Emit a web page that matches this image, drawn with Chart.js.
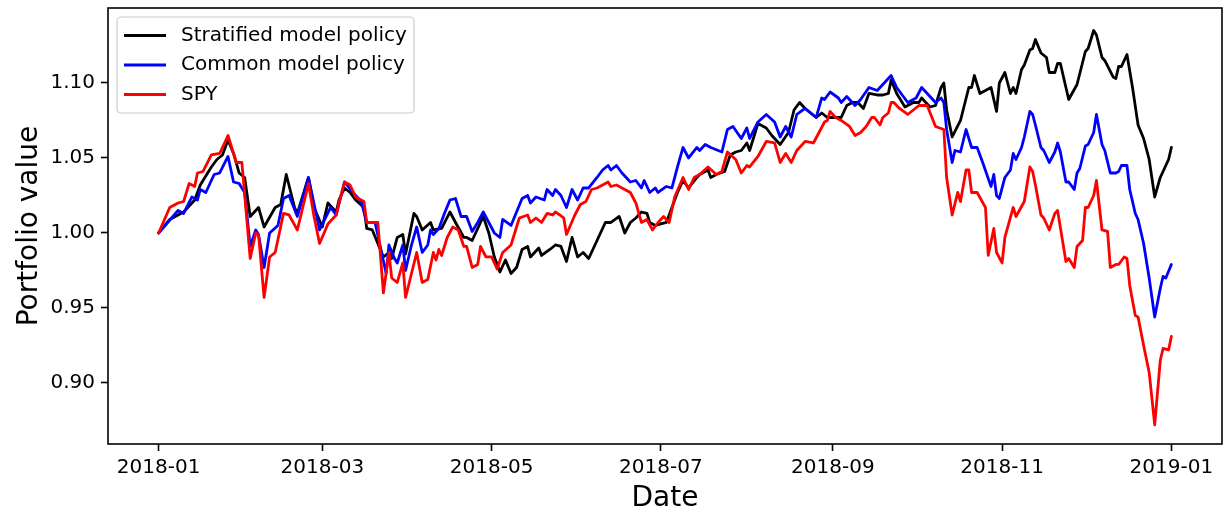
<!DOCTYPE html>
<html>
<head>
<meta charset="utf-8">
<script src="https://cdn.jsdelivr.net/npm/chart.js@4.4.1/dist/chart.umd.min.js"></script>
<style>
  html, body { margin: 0; padding: 0; background: #fff; }
  #wrap { width: 1224px; height: 510px; }
</style>
</head>
<body>
<div id="wrap"><canvas id="portfolio_chart"></canvas></div>
<script>
// days since 2018-01-01
const stratDays = [0,4,9,13,15,19,21,23,25,27,29,31,33,36,38,42,44,46,49,50,54,56,59,61,64,65,67,69,71,74,75,77,81,83,84,86,88,89,92,93,95,98,99,102,105,107,110,111,113,117,119,121,123,125,127,129,131,133,134,137,138,141,143,145,147,149,151,153,155,158,161,163,166,168,170,172,174,176,177,179,183,185,187,189,191,194,195,198,199,201,204,206,208,210,212,213,216,219,221,223,224,227,229,231,233,237,239,241,244,246,248,250,252,254,256,259,261,263,264,266,269,272,274,275,278,280,282,283,284,286,289,292,293,294,296,300,302,303,305,307,308,309,311,312,314,315,316,318,320,321,323,324,325,328,331,334,335,337,338,340,341,344,345,346,347,349,351,353,355,357,359,361,363,364,365];
const stratValues = [1.000,1.009,1.014,1.022,1.032,1.044,1.049,1.052,1.062,1.053,1.040,1.037,1.011,1.017,1.004,1.017,1.019,1.039,1.017,1.013,1.037,1.017,1.004,1.020,1.014,1.022,1.030,1.027,1.022,1.017,1.003,1.002,0.984,0.987,0.983,0.997,0.999,0.986,1.013,1.011,1.002,1.007,1.002,1.003,1.014,1.007,0.997,0.997,0.995,1.011,1.000,0.984,0.974,0.982,0.973,0.977,0.989,0.991,0.984,0.990,0.985,0.989,0.992,0.991,0.981,0.997,0.984,0.987,0.983,0.995,1.007,1.007,1.011,1.000,1.007,1.010,1.014,1.013,1.007,1.005,1.007,1.017,1.027,1.035,1.030,1.037,1.039,1.042,1.037,1.039,1.041,1.052,1.054,1.055,1.060,1.055,1.073,1.070,1.065,1.061,1.059,1.067,1.082,1.087,1.083,1.077,1.080,1.077,1.077,1.077,1.085,1.087,1.087,1.083,1.093,1.092,1.092,1.093,1.102,1.093,1.084,1.087,1.087,1.090,1.084,1.085,1.097,1.100,1.082,1.064,1.075,1.097,1.097,1.105,1.093,1.097,1.081,1.100,1.107,1.093,1.097,1.093,1.109,1.112,1.122,1.123,1.129,1.120,1.117,1.107,1.107,1.113,1.113,1.089,1.099,1.121,1.123,1.135,1.132,1.117,1.115,1.104,1.103,1.111,1.111,1.119,1.097,1.072,1.063,1.049,1.024,1.037,1.045,1.049,1.057];

const commonDays = [0,7,9,12,14,15,17,20,22,25,27,29,31,33,35,36,38,40,43,45,47,50,54,58,62,64,67,70,73,75,78,82,83,85,86,88,89,91,93,95,97,98,99,101,103,105,107,109,111,113,115,117,119,121,123,124,127,131,133,134,136,139,140,142,143,145,147,149,151,153,155,158,160,162,163,165,167,170,172,174,175,177,179,180,183,185,187,189,191,194,195,197,199,203,205,207,210,212,213,216,219,222,224,226,228,230,233,237,239,240,242,245,246,248,251,253,256,259,261,264,266,270,273,275,277,280,282,283,284,286,287,289,291,293,295,297,300,301,302,303,305,307,308,309,311,312,314,315,316,318,319,321,323,324,325,327,328,330,331,332,334,335,337,338,340,341,343,345,346,347,349,350,352,353,355,357,359,361,362,363,365];
const commonValues = [1.000,1.015,1.013,1.024,1.022,1.029,1.027,1.039,1.040,1.051,1.034,1.033,1.027,0.991,1.002,0.999,0.977,1.000,1.005,1.023,1.025,1.011,1.037,1.002,1.017,1.012,1.034,1.027,1.021,1.007,1.007,0.973,0.992,0.983,0.980,0.992,0.975,0.991,1.004,0.987,0.992,1.002,0.999,1.003,1.013,1.022,1.023,1.011,1.011,1.001,1.007,1.014,1.007,1.000,0.997,1.009,1.005,1.023,1.025,1.020,1.024,1.022,1.029,1.025,1.029,1.025,1.017,1.029,1.022,1.030,1.030,1.037,1.042,1.045,1.042,1.045,1.040,1.034,1.035,1.030,1.035,1.027,1.030,1.027,1.031,1.030,1.044,1.057,1.050,1.057,1.055,1.059,1.057,1.054,1.069,1.071,1.063,1.070,1.063,1.074,1.079,1.074,1.064,1.071,1.064,1.079,1.083,1.077,1.090,1.089,1.094,1.090,1.087,1.091,1.085,1.089,1.097,1.095,1.099,1.105,1.097,1.087,1.090,1.097,1.093,1.087,1.090,1.087,1.069,1.047,1.055,1.054,1.069,1.057,1.057,1.047,1.031,1.039,1.025,1.023,1.037,1.042,1.053,1.049,1.057,1.064,1.081,1.079,1.072,1.057,1.055,1.047,1.054,1.060,1.054,1.034,1.034,1.029,1.040,1.043,1.058,1.059,1.067,1.079,1.059,1.055,1.040,1.040,1.041,1.045,1.045,1.029,1.013,1.009,0.993,0.970,0.944,0.963,0.971,0.970,0.979];

const spyDays = [0,4,7,9,11,13,14,16,19,22,25,28,30,33,35,36,38,40,42,45,47,50,54,56,58,61,64,65,67,69,71,74,75,79,81,83,84,86,88,89,93,95,97,99,100,101,102,104,106,108,110,111,113,115,116,118,120,122,124,127,130,133,134,136,138,140,142,143,146,147,150,152,154,156,158,162,163,165,168,170,172,174,176,178,180,182,184,186,189,191,193,195,198,201,203,205,208,210,212,213,216,219,222,224,226,228,230,233,236,240,241,242,244,246,249,251,253,255,257,258,260,261,263,264,265,267,270,272,274,277,280,283,284,286,288,289,291,292,293,295,298,299,301,302,304,305,308,309,312,314,315,316,318,319,321,323,324,327,328,330,331,333,334,335,337,338,340,342,343,345,346,348,349,350,352,353,355,357,359,361,362,364,365];
const spyValues = [1.000,1.017,1.020,1.021,1.033,1.031,1.040,1.041,1.052,1.053,1.065,1.047,1.047,0.983,1.000,0.999,0.957,0.984,0.987,1.013,1.012,1.002,1.033,1.011,0.993,1.006,1.012,1.020,1.034,1.032,1.024,1.021,1.007,1.007,0.960,0.987,0.970,0.967,0.980,0.957,0.987,0.967,0.969,0.987,0.982,0.989,0.985,0.997,1.004,1.002,0.991,0.991,0.977,0.979,0.991,0.984,0.984,0.976,0.987,0.992,1.010,1.012,1.007,1.010,1.007,1.013,1.012,1.014,1.010,0.999,1.012,1.019,1.021,1.029,1.030,1.034,1.031,1.032,1.029,1.027,1.020,1.007,1.009,1.002,1.007,1.011,1.007,1.024,1.037,1.029,1.037,1.039,1.044,1.039,1.041,1.054,1.049,1.040,1.045,1.044,1.051,1.061,1.060,1.047,1.053,1.047,1.055,1.061,1.060,1.074,1.075,1.081,1.077,1.075,1.071,1.065,1.067,1.071,1.077,1.077,1.072,1.077,1.080,1.087,1.087,1.083,1.079,1.082,1.085,1.085,1.071,1.069,1.037,1.012,1.027,1.021,1.042,1.042,1.027,1.027,1.017,0.985,1.003,0.987,0.980,0.997,1.017,1.011,1.021,1.044,1.041,1.032,1.012,1.010,1.002,1.013,1.015,0.981,0.983,0.977,0.991,0.995,1.017,1.017,1.025,1.035,1.002,1.001,0.977,0.979,0.979,0.984,0.983,0.965,0.945,0.944,0.925,0.907,0.872,0.915,0.923,0.922,0.931];

const seriesLabels = ['Stratified model policy', 'Common model policy', 'SPY'];
const seriesColors = ['#000000', '#0000ff', '#ff0000'];

const xTickDays = [0, 59, 120, 181, 243, 304, 365];
const xTickLabels = ['2018-01', '2018-03', '2018-05', '2018-07', '2018-09', '2018-11', '2019-01'];
const yTicks = [0.90, 0.95, 1.00, 1.05, 1.10];

const FONT = 'DejaVu Sans';

function toPoints(days, values) {
    return days.map((d, i) => ({ x: d, y: values[i] }));
}

// matplotlib-style frame + legend inside the plot
const framePlugin = {
    id: 'frame',
    afterDraw(chart) {
        const ctx = chart.ctx;
        const a = chart.chartArea;
        ctx.save();
        ctx.strokeStyle = '#000';
        ctx.lineWidth = 1.6;
        ctx.strokeRect(a.left, a.top, a.right - a.left, a.bottom - a.top);

        // legend box
        const bx = 117, by = 17, bw = 297, bh = 96;
        ctx.beginPath();
        ctx.roundRect(bx, by, bw, bh, 4);
        ctx.fillStyle = 'rgba(255,255,255,0.8)';
        ctx.fill();
        ctx.strokeStyle = '#cccccc';
        ctx.lineWidth = 1.2;
        ctx.stroke();

        ctx.font = '20px "' + FONT + '"';
        ctx.textBaseline = 'middle';
        ctx.textAlign = 'left';
        seriesLabels.forEach((label, i) => {
            const y = 35.5 + i * 29.5;
            ctx.beginPath();
            ctx.moveTo(124, y);
            ctx.lineTo(166, y);
            ctx.strokeStyle = seriesColors[i];
            ctx.lineWidth = 2.8;
            ctx.stroke();
            ctx.fillStyle = '#000';
            ctx.fillText(label, 181, y);
        });
        ctx.restore();
    }
};

const chartData = {
    datasets: [
        {
            label: seriesLabels[0],
            data: toPoints(stratDays, stratValues),
            borderColor: seriesColors[0],
            order: 3
        },
        {
            label: seriesLabels[1],
            data: toPoints(commonDays, commonValues),
            borderColor: seriesColors[1],
            order: 2
        },
        {
            label: seriesLabels[2],
            data: toPoints(spyDays, spyValues),
            borderColor: seriesColors[2],
            order: 1
        }
    ]
};

new Chart(document.getElementById('portfolio_chart'), {
    type: 'line',
    data: chartData,
    options: {
        responsive: true,
        maintainAspectRatio: false,
        animation: false,
        layout: { padding: { left: 0, right: 2, top: 8, bottom: 0 } },
        elements: {
            point: { radius: 0 },
            line: { borderWidth: 2.8, tension: 0, borderJoinStyle: 'round', borderCapStyle: 'round' }
        },
        plugins: {
            legend: { display: false },
            tooltip: { enabled: false }
        },
        scales: {
            x: {
                type: 'linear',
                min: -18.25,
                max: 383.25,
                border: { display: false },
                grid: { drawOnChartArea: false, drawTicks: true, tickLength: 7, tickWidth: 1.6, tickColor: '#000' },
                afterBuildTicks: (scale) => { scale.ticks = xTickDays.map(v => ({ value: v })); },
                afterFit: (scale) => { scale.height = 66; scale.paddingLeft = 0; scale.paddingRight = 0; },
                ticks: {
                    color: '#000',
                    padding: 5,
                    maxRotation: 0,
                    autoSkip: false,
                    font: { family: FONT, size: 20 },
                    callback: (value) => {
                        const i = xTickDays.indexOf(value);
                        return i >= 0 ? xTickLabels[i] : '';
                    }
                },
                title: {
                    display: true,
                    text: 'Date',
                    color: '#000',
                    font: { family: FONT, size: 28, lineHeight: 1 },
                    padding: { top: 0, bottom: -3 }
                }
            },
            y: {
                min: 0.8593,
                max: 1.15,
                border: { display: false },
                grid: { drawOnChartArea: false, drawTicks: true, tickLength: 7, tickWidth: 1.6, tickColor: '#000' },
                afterBuildTicks: (scale) => { scale.ticks = yTicks.map(v => ({ value: v })); },
                afterFit: (scale) => { scale.width = 108; scale.paddingTop = 0; scale.paddingBottom = 0; },
                ticks: {
                    color: '#000',
                    padding: 6,
                    font: { family: FONT, size: 20 },
                    callback: (value) => value.toFixed(2)
                },
                title: {
                    display: true,
                    text: 'Portfolio value',
                    color: '#000',
                    font: { family: FONT, size: 28, lineHeight: 1 },
                    padding: { top: 16, bottom: 0 }
                }
            }
        }
    },
    plugins: [framePlugin]
});
</script>
</body>
</html>
